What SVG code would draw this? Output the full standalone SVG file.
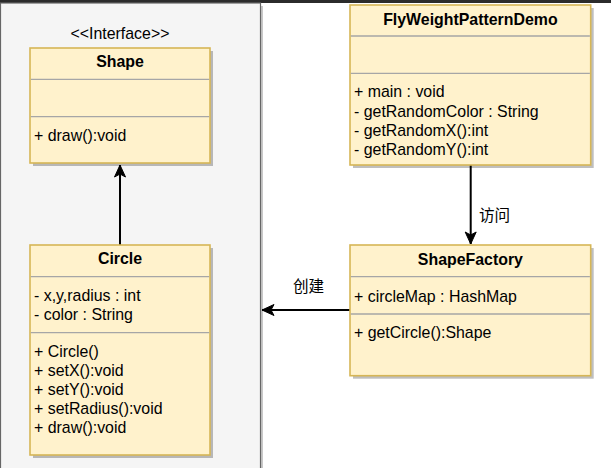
<svg xmlns="http://www.w3.org/2000/svg" width="611" height="468" viewBox="0 0 611 468">
<defs>
<style>
.box{fill:#fff2cc;stroke:#d6b656;stroke-width:1.6}
.sh{fill:#000;opacity:0.25}
.div{stroke:#a6a6a6;stroke-width:1.3}
.t{font-family:"Liberation Sans",Arial,sans-serif;font-size:15.9px;fill:#000}
.h{font-weight:bold;text-anchor:middle}
.c{text-anchor:middle}
.cj{font-family:"Liberation Sans","Noto Sans CJK SC",sans-serif;font-size:15.6px;fill:#000}
.edge{stroke:#000;stroke-width:2;fill:none}
</style>
<marker id="arr" markerUnits="userSpaceOnUse" markerWidth="14" markerHeight="14" viewBox="0 0 14 14" refX="13" refY="7" orient="auto">
<path d="M1,1.5 L13,7 L1,12.5 L4,7 Z" fill="#000" stroke="#000" stroke-width="1"/>
</marker>
</defs>
<rect x="0" y="0" width="611" height="3" fill="#2b2b2b"/>
<g id="container">
<rect x="3" y="6" width="260" height="470" fill="#c8c8c8"/>
<rect x="0.5" y="3" width="260" height="470" fill="#f5f5f5" stroke="#666" stroke-width="1.2"/>
</g>
<g id="connectors">
<line class="edge" x1="120" y1="245" x2="120" y2="165" marker-end="url(#arr)"/>
<line class="edge" x1="470.7" y1="165" x2="470.7" y2="244" marker-end="url(#arr)"/>
<text class="cj" x="479" y="220.5">访问</text>
<line class="edge" x1="350" y1="310" x2="262" y2="310" marker-end="url(#arr)"/>
<text class="cj" x="293" y="292">创建</text>
</g>
<g id="shape">
<text class="t c" x="120" y="39">&lt;&lt;Interface&gt;&gt;</text>
<rect class="sh" x="33" y="51" width="180" height="115"/>
<rect class="box" x="30" y="48" width="180" height="115"/>
<line class="div" x1="30.8" y1="79.3" x2="209.2" y2="79.3"/>
<line class="div" x1="30.8" y1="116.7" x2="209.2" y2="116.7"/>
<text class="t h" x="120" y="67.3">Shape</text>
<text class="t" x="34" y="141.3">+ draw():void</text>
</g>
<g id="circle">
<rect class="sh" x="33" y="248" width="180" height="210"/>
<rect class="box" x="30" y="245" width="180" height="210"/>
<line class="div" x1="30.8" y1="276.7" x2="209.2" y2="276.7"/>
<line class="div" x1="30.8" y1="332.7" x2="209.2" y2="332.7"/>
<text class="t h" x="120" y="264">Circle</text>
<text class="t" x="34" y="301.3">- x,y,radius : int</text>
<text class="t" x="34" y="320">- color : String</text>
<text class="t" x="34" y="357.3">+ Circle()</text>
<text class="t" x="34" y="376.3">+ setX():void</text>
<text class="t" x="34" y="395">+ setY():void</text>
<text class="t" x="34" y="414">+ setRadius():void</text>
<text class="t" x="34" y="433">+ draw():void</text>
</g>
<g id="flyweight">
<rect class="sh" x="353" y="8" width="240.7" height="160"/>
<rect class="box" x="350" y="5" width="240.7" height="160"/>
<line class="div" x1="350.8" y1="36" x2="589.9" y2="36"/>
<line class="div" x1="350.8" y1="73.3" x2="589.9" y2="73.3"/>
<text class="t h" x="470.4" y="24.6">FlyWeightPatternDemo</text>
<text class="t" x="354" y="97.3">+ main : void</text>
<text class="t" x="354" y="117.3">- getRandomColor : String</text>
<text class="t" x="354" y="136.3">- getRandomX():int</text>
<text class="t" x="354" y="155">- getRandomY():int</text>
</g>
<g id="shapefactory">
<rect class="sh" x="353" y="248" width="240.7" height="130.7"/>
<rect class="box" x="350" y="245" width="240.7" height="130.7"/>
<line class="div" x1="350.8" y1="276.7" x2="589.9" y2="276.7"/>
<line class="div" x1="350.8" y1="314" x2="589.9" y2="314"/>
<text class="t h" x="470.4" y="265">ShapeFactory</text>
<text class="t" x="354" y="301.6">+ circleMap : HashMap</text>
<text class="t" x="354" y="338.3">+ getCircle():Shape</text>
</g>
</svg>
